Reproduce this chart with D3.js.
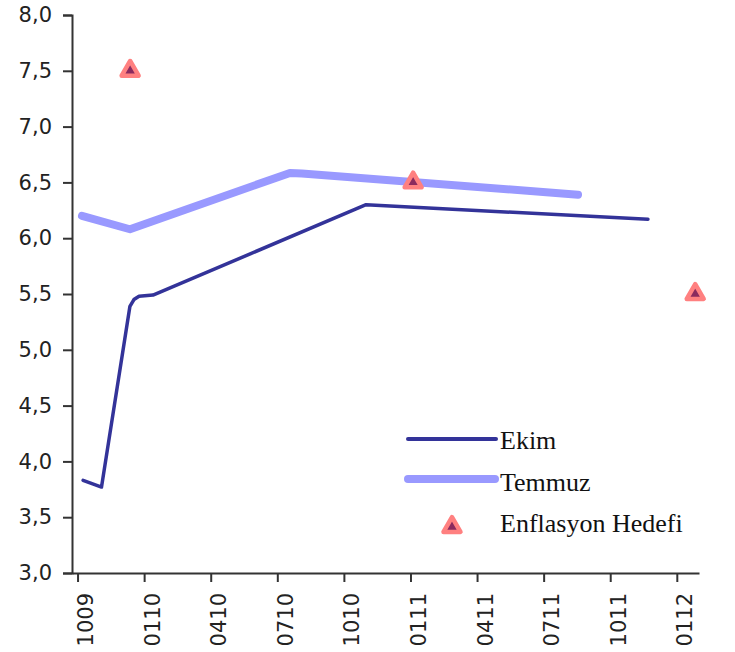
<!DOCTYPE html>
<html>
<head>
<meta charset="utf-8">
<script src="https://d3js.org/d3.v7.min.js"></script>
<style>
    body { margin: 0; background: #fff; }
</style>
</head>
<body>
<svg width="735" height="652"></svg>
<script>
// x values are months counted from Oct 2009 (0 = 1009)
var tickMonths = [0, 3, 6, 9, 12, 15, 18, 21, 24, 27];
var tickLabels = ["1009", "0110", "0410", "0710", "1010", "0111", "0411", "0711", "1011", "0112"];
var yTicks = [3.0, 3.5, 4.0, 4.5, 5.0, 5.5, 6.0, 6.5, 7.0, 7.5, 8.0];

// Ekim survey expectations
var ekimMonths = [0.25, 1.08, 2.36, 2.54, 2.77, 3.40, 13.00, 25.70];
var ekimValues = [3.83, 3.77, 5.39, 5.45, 5.48, 5.49, 6.30, 6.17];

// Temmuz survey expectations
var temmuzMonths = [0.20, 2.36, 9.57, 10.11, 22.55];
var temmuzValues = [6.20, 6.08, 6.585, 6.58, 6.39];

// inflation targets
var hedefMonths = [2.37, 15.12, 27.83];
var hedefValues = [7.5, 6.5, 5.5];

var svg = d3.select("svg");

var x = d3.scaleLinear()
    .domain([-0.25, 28])
    .range([72, 699]);

var y = d3.scaleLinear()
    .domain([3, 8])
    .range([573, 15]);

var axisColor = "#333";
var numFont = "'DejaVu Sans', Verdana, sans-serif";

// y axis
var yAxis = svg.append("g")
    .attr("transform", "translate(72,0)")
    .call(d3.axisLeft(y)
        .tickValues(yTicks)
        .tickSize(9)
        .tickPadding(11)
        .tickFormat(function (d) { return d3.format(".1f")(d).replace(".", ","); }));
yAxis.select(".domain").attr("stroke", axisColor).attr("stroke-width", 2);
yAxis.selectAll(".tick line").attr("stroke", axisColor).attr("stroke-width", 2);
yAxis.selectAll(".tick text")
    .attr("fill", "#222")
    .style("font-family", numFont)
    .style("font-size", "21px");

// x axis, labels are drawn rotated
var xAxis = svg.append("g")
    .attr("transform", "translate(0,573)")
    .call(d3.axisBottom(x)
        .tickValues(tickMonths)
        .tickSizeInner(9)
        .tickSizeOuter(0)
        .tickFormat(function (d, i) { return tickLabels[i]; }));
xAxis.select(".domain").attr("stroke", axisColor).attr("stroke-width", 2);
xAxis.selectAll(".tick line").attr("stroke", axisColor).attr("stroke-width", 2);
xAxis.selectAll(".tick text")
    .attr("fill", "#222")
    .attr("text-anchor", "end")
    .attr("transform", "translate(15,20) rotate(-90)")
    .attr("x", 0)
    .attr("y", 0)
    .attr("dy", 0)
    .style("font-family", numFont)
    .style("font-size", "21px");

// straight segments, the joins are rounded by the stroke
var line = d3.line()
    .x(function (d) { return x(d[0]); })
    .y(function (d) { return y(d[1]); });

// Temmuz line (thick, light)
svg.append("path")
    .datum(d3.zip(temmuzMonths, temmuzValues))
    .attr("d", line)
    .attr("fill", "none")
    .attr("stroke", "#9999ff")
    .attr("stroke-width", 8)
    .attr("stroke-linecap", "round")
    .attr("stroke-linejoin", "round");

// Ekim line
svg.append("path")
    .datum(d3.zip(ekimMonths, ekimValues))
    .attr("d", line)
    .attr("fill", "none")
    .attr("stroke", "#333399")
    .attr("stroke-width", 3.5)
    .attr("stroke-linecap", "round")
    .attr("stroke-linejoin", "round");

// target markers
var tri = d3.symbol().type(d3.symbolTriangle).size(125);

function drawTriangle(g, cx, cy) {
    g.append("path")
        .attr("d", tri)
        .attr("transform", "translate(" + cx + "," + cy + ")")
        .attr("fill", "#8b2a5e")
        .attr("stroke", "#ff8080")
        .attr("stroke-width", 4.5)
        .attr("stroke-linejoin", "round");
}

var hedef = svg.append("g");
d3.zip(hedefMonths, hedefValues).forEach(function (d) {
    drawTriangle(hedef, x(d[0]), y(d[1]));
});

// legend
var legendFont = "'Liberation Serif', 'Times New Roman', serif";
var legend = svg.append("g");

legend.append("line")
    .attr("x1", 408).attr("x2", 496)
    .attr("y1", 439).attr("y2", 439)
    .attr("stroke", "#333399")
    .attr("stroke-width", 4)
    .attr("stroke-linecap", "round");
legend.append("line")
    .attr("x1", 408).attr("x2", 495)
    .attr("y1", 479).attr("y2", 479)
    .attr("stroke", "#9999ff")
    .attr("stroke-width", 8)
    .attr("stroke-linecap", "round");
drawTriangle(legend, 452, 527);

var legendNames = ["Ekim", "Temmuz", "Enflasyon Hedefi"];
var legendBaselines = [449, 491, 532];
legend.selectAll("text")
    .data(legendNames)
    .enter()
    .append("text")
    .attr("x", 500)
    .attr("y", function (d, i) { return legendBaselines[i]; })
    .attr("fill", "#111")
    .style("font-family", legendFont)
    .style("font-size", "26px")
    .text(function (d) { return d; });
</script>
</body>
</html>
